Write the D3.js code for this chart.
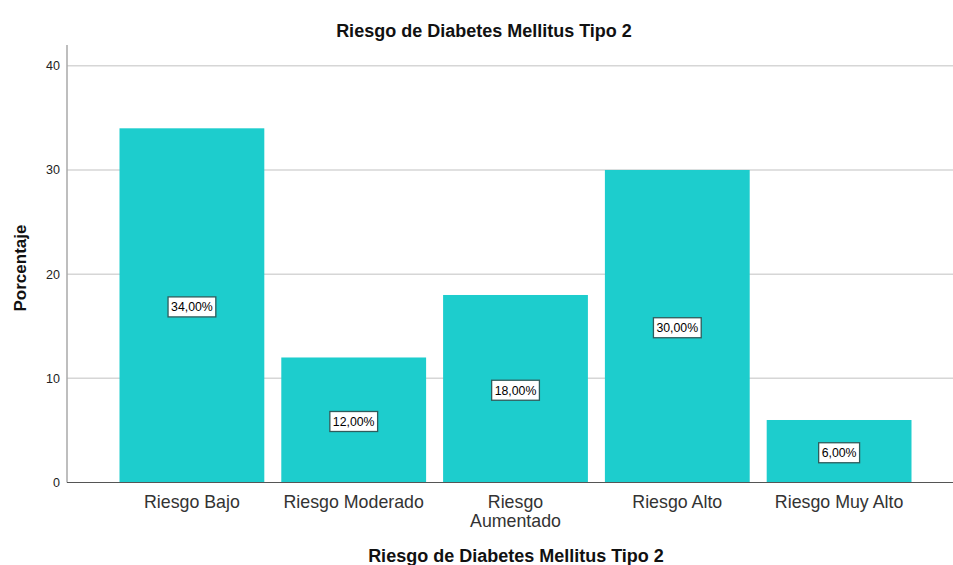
<!DOCTYPE html>
<html>
<head>
<meta charset="utf-8">
<script src="https://cdn.jsdelivr.net/npm/d3@7"></script>
<style>
  body { margin: 0; background: #fff; }
  svg text { font-family: "Liberation Sans", Arial, sans-serif; }
</style>
</head>
<body>
<div id="chart"></div>
<script>
//////////////////////////// data ////////////////////////////
const categories = ["Riesgo Bajo", "Riesgo Moderado", "Riesgo Aumentado", "Riesgo Alto", "Riesgo Muy Alto"];
const percentages = [34, 12, 18, 30, 6];
const yTicks = [0, 10, 20, 30, 40];
const title = "Riesgo de Diabetes Mellitus Tipo 2";

//////////////////////////// sizes ////////////////////////////
const width = 953, height = 565;
const axisX = 67, axisY = 482.5, axisTop = 45;

const svg = d3.select("#chart").append("svg")
  .attr("width", width).attr("height", height);

const x = d3.scaleBand()
  .domain(categories)
  .range([119.5, 911.5])
  .paddingInner(0.105)
  .paddingOuter(0);

const y = d3.scaleLinear()
  .domain([0, 40])
  .range([axisY, 65.8]);

// gridlines
svg.append("g")
  .selectAll("line")
  .data(yTicks.filter(d => d > 0))
  .join("line")
  .attr("x1", axisX).attr("x2", width)
  .attr("y1", d => y(d)).attr("y2", d => y(d))
  .attr("stroke", "#d6d6d6").attr("stroke-width", 1.5);

// bars
svg.append("g")
  .selectAll("rect")
  .data(categories)
  .join("rect")
  .attr("x", d => x(d))
  .attr("width", x.bandwidth())
  .attr("y", (d, i) => y(percentages[i]))
  .attr("height", (d, i) => axisY - y(percentages[i]))
  .attr("fill", "#1dcdcd");

// y axis
const yAxis = svg.append("g")
  .attr("transform", `translate(${axisX},0)`)
  .call(d3.axisLeft(y).tickValues(yTicks).tickSize(0).tickPadding(7));
yAxis.select(".domain").remove();
yAxis.selectAll("text").attr("font-size", 12.5).attr("fill", "#222")
  .attr("font-family", "'Liberation Sans', Arial, sans-serif");
svg.append("line")
  .attr("x1", axisX).attr("x2", axisX)
  .attr("y1", axisTop).attr("y2", axisY)
  .attr("stroke", "#a8a8a8").attr("stroke-width", 1.5);

// x axis line
svg.append("line")
  .attr("x1", axisX).attr("x2", width)
  .attr("y1", axisY).attr("y2", axisY)
  .attr("stroke", "#555").attr("stroke-width", 1.2);

// x labels (wrap long one)
const xLabels = svg.append("g").selectAll("text")
  .data(categories)
  .join("text")
  .attr("x", d => x(d) + x.bandwidth() / 2)
  .attr("y", 508)
  .attr("text-anchor", "middle")
  .attr("font-size", 17.8)
  .attr("fill", "#333");
xLabels.each(function (d) {
  const t = d3.select(this);
  const lines = d === "Riesgo Aumentado" ? ["Riesgo", "Aumentado"] : [d];
  lines.forEach((l, i) => {
    t.append("tspan").attr("x", x(d) + x.bandwidth() / 2)
      .attr("dy", i === 0 ? 0 : 19).text(l);
  });
});

// value labels
const labels = svg.append("g").selectAll("g")
  .data(categories)
  .join("g")
  .attr("transform", (d, i) => `translate(${x(d) + x.bandwidth() / 2},${(y(percentages[i]) + axisY) / 2 + 1.5})`);
labels.append("text")
  .attr("text-anchor", "middle")
  .attr("dy", "0.36em")
  .attr("font-size", 12.3)
  .attr("fill", "#000")
  .text((d, i) => percentages[i].toFixed(2).replace(".", ",") + "%");
labels.each(function () {
  const g = d3.select(this);
  const bb = g.select("text").node().getBBox();
  g.insert("rect", "text")
    .attr("x", bb.x - 3).attr("y", -10)
    .attr("width", bb.width + 6).attr("height", 20)
    .attr("fill", "#fff").attr("stroke", "#2f5c5c").attr("stroke-width", 1.3);
});

// titles
svg.append("text")
  .attr("x", 484).attr("y", 37)
  .attr("text-anchor", "middle")
  .attr("font-size", 18).attr("font-weight", "bold").attr("fill", "#111")
  .text(title);

svg.append("text")
  .attr("x", 516).attr("y", 562)
  .attr("text-anchor", "middle")
  .attr("font-size", 18).attr("font-weight", "bold").attr("fill", "#111")
  .text(title);

svg.append("text")
  .attr("transform", "translate(26,268) rotate(-90)")
  .attr("text-anchor", "middle")
  .attr("font-size", 17).attr("font-weight", "bold").attr("fill", "#111")
  .text("Porcentaje");
</script>
</body>
</html>
